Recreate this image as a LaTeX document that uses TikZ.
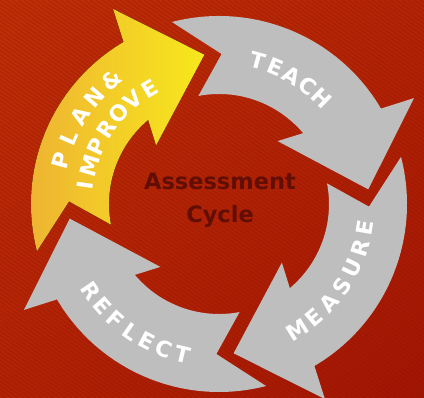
\documentclass[tikz,border=0pt]{standalone}
\usepackage{fontspec}
\setmainfont{DejaVu Sans}
\usetikzlibrary{shadings}

\definecolor{bgtl}{RGB}{194,50,8}
\definecolor{bgtr}{RGB}{182,38,6}
\definecolor{bgbl}{RGB}{180,36,6}
\definecolor{bgbr}{RGB}{162,22,4}
\definecolor{stripe}{RGB}{140,16,0}
\definecolor{arrowgray}{RGB}{190,190,190}
\definecolor{planleft}{RGB}{238,176,52}
\definecolor{planright}{RGB}{247,232,28}
\definecolor{titlered}{RGB}{98,14,4}

% one arrow of the cycle, drawn around the origin
\newcommand{\cycleshape}{(120.5:188) arc[start angle=120.5, end angle=194.5, radius=188]
  -- (179:150) -- (190.8:110) arc[start angle=190.8, end angle=130.1, radius=110]
  -- (137:86) -- (95.6:150) -- (118.5:222) -- cycle}

\begin{document}
\begin{tikzpicture}[x=1pt, y=1pt,
    arrowbox/.style={fill=arrowgray},
    planbox/.style={left color=planleft, right color=planright},
    letter/.style={text=white, inner sep=0pt, font=\bfseries\fontsize{22}{22}\selectfont},
    title/.style={text=titlered, align=center, font=\bfseries\fontsize{22.5}{33}\selectfont}
]

\useasboundingbox (0,0) rectangle (424,398);

% background
\fill[upper left=bgtl, upper right=bgtr, lower left=bgbl, lower right=bgbr] (0,0) rectangle (424,398);
\begin{scope}
  \clip (0,0) rectangle (424,398);
  \foreach \k in {-570,-564,...,424}
    \draw[stripe, line width=2pt, opacity=0.25] (\k,398) -- ++(570,-398);
\end{scope}

\begin{scope}[shift={(219,194)}]
  % arrows
  \fill[planbox] \cycleshape;
  \fill[arrowbox, rotate=-90] \cycleshape;
  \fill[arrowbox, rotate=-180] \cycleshape;
  \fill[arrowbox, rotate=90] \cycleshape;

  % words along the arrows
  \foreach \ch [count=\i from 0] in {P,L,A,N,\&}
    \node[letter, rotate={164.5-8.4*\i-90}] (plan\i) at ({164.5-8.4*\i}:164) {\ch};
  \foreach \ch [count=\i from 0] in {I,M,P,R,O,V,E}
    \node[letter, rotate={172-8.5*\i-90}] (improve\i) at ({172-8.5*\i}:135) {\ch};
  \foreach \ch [count=\i from 0] in {T,E,A,C,H}
    \node[letter, rotate={74.8-7.25*\i-90}] (teach\i) at ({74.8-7.25*\i}:148) {\ch};
  \foreach \ch [count=\i from 0] in {M,E,A,S,U,R,E}
    \node[letter, rotate={-58+8.1*\i+90}] (measure\i) at ({-58+8.1*\i}:148) {\ch};
  \foreach \ch [count=\i from 0] in {R,E,F,L,E,C,T}
    \node[letter, rotate={214.3+7*\i+90}] (reflect\i) at ({214.3+7*\i}:155) {\ch};

  % centre title
  \node[title] (cycle) at (1,4) {Assessment\\Cycle};
\end{scope}

\end{tikzpicture}
\end{document}
